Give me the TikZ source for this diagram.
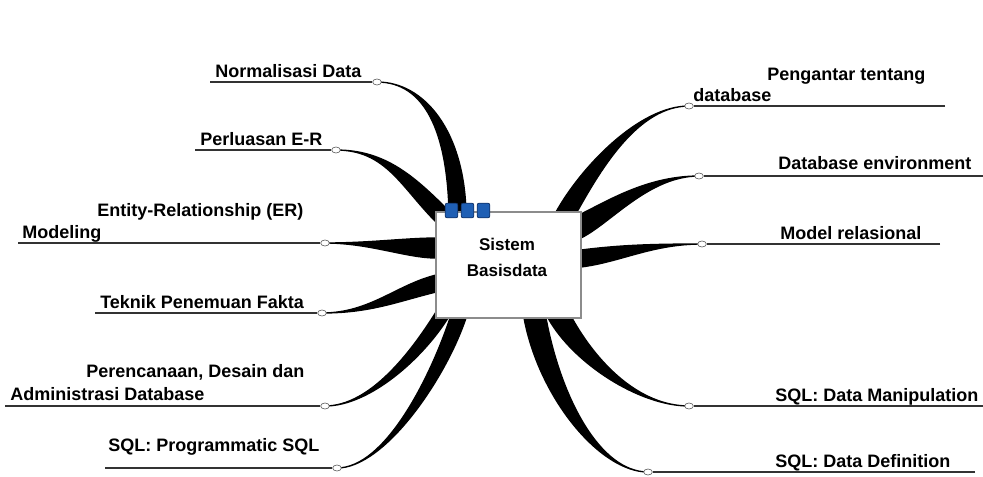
\documentclass[tikz,border=0pt]{standalone}
\usepackage{fontspec}
\setmainfont{Liberation Sans}
\usetikzlibrary{calc,shapes.geometric,backgrounds}
\definecolor{tabblue}{RGB}{31,95,180}
\definecolor{tabedge}{RGB}{20,55,110}
\tikzset{
  topic/.style={anchor=base west,inner sep=0pt,font=\fontsize{13.5}{16}\selectfont\bfseries},
  knob/.style={ellipse,draw=black!60,fill=white,line width=0.5pt,minimum width=6.5pt,minimum height=4.5pt,inner sep=0pt},
  underline/.style={line width=1.2pt,black!80},
  branch/.style={fill=black,draw=black,line width=1pt,line join=round},
  mainbox/.style={draw=black!45,fill=white,line width=0.8pt,minimum width=108.75pt,minimum height=79.5pt,inner sep=0pt,outer sep=0pt},
  tabbox/.style={draw=tabedge,fill=tabblue,line width=0.6pt,rounded corners=1.5pt,minimum width=9.5pt,minimum height=11pt,inner sep=0pt},
  boxtext/.style={align=center,font=\fontsize{12.75}{19.5}\selectfont\bfseries}
}
% knob, control offset, box anchor, base A, base B, control vector at base
\newcommand{\twig}[6]{%
  \filldraw[branch] (#1.center) .. controls ($(#1)+(#2)$) and ($(#3)+(#4)+(#6)$) .. ($(#3)+(#4)$)
    -- ($(#3)+(#5)$) .. controls ($(#3)+(#5)+(#6)$) and ($(#1)+(#2)$) .. (#1.center);}
\begin{document}
\begin{tikzpicture}[x=0.75pt,y=-0.75pt]
\useasboundingbox (0,0) rectangle (983,476);
\node[mainbox] (sb) at (508.5,265) {};
\node[boxtext] (sbt) at (507,257) {Sistem\\Basisdata};
\foreach \i in {0,1,2}
  \node[tabbox] (tab\i) at ($(sb.north west)+(15.5+16*\i,-1.5)$) {};

% left side
\node[topic] (t1) at (215,77) {Normalisasi Data};
\node[knob] (k1) at (377,82) {};
\coordinate (e1) at (210,82);
\node[topic] (t2) at (200,145) {Perluasan E-R};
\node[knob] (k2) at (336,150) {};
\coordinate (e2) at (195,150);
\node[topic] (t3a) at (97,216) {Entity-Relationship (ER)};
\node[topic] (t3b) at (22,238) {Modeling};
\node[knob] (k3) at (325,243) {};
\coordinate (e3) at (18,243);
\node[topic] (t4) at (100,308) {Teknik Penemuan Fakta};
\node[knob] (k4) at (322,313) {};
\coordinate (e4) at (95,313);
\node[topic] (t5a) at (86,377) {Perencanaan, Desain dan};
\node[topic] (t5b) at (10,400) {Administrasi Database};
\node[knob] (k5) at (325,406) {};
\coordinate (e5) at (5,406);
\node[topic] (t6) at (108,451) {SQL: Programmatic SQL};
\node[knob] (k6) at (337,468) {};
\coordinate (e6) at (105,468);

% right side
\node[topic] (t7a) at (767,80) {Pengantar tentang};
\node[topic] (t7b) at (693,101) {database};
\node[knob] (k7) at (689,106) {};
\coordinate (e7) at (945,106);
\node[topic] (t8) at (778,169) {Database environment};
\node[knob] (k8) at (699,176) {};
\coordinate (e8) at (983,176);
\node[topic] (t9) at (780,239) {Model relasional};
\node[knob] (k9) at (702,244) {};
\coordinate (e9) at (940,244);
\node[topic] (t10) at (775,401) {SQL: Data Manipulation};
\node[knob] (k10) at (689,406) {};
\coordinate (e10) at (983,406);
\node[topic] (t11) at (775,467) {SQL: Data Definition};
\node[knob] (k11) at (648,472) {};
\coordinate (e11) at (975,472);

\foreach \i in {1,...,11}
  \draw[underline] (e\i) -- (k\i);

\begin{scope}[on background layer]
\fill[white] (0,0) rectangle (983,476);
\twig{k1}{48,0}{sb.north west}{13,0}{30,0}{-2,-80}
\twig{k2}{50,0}{sb.north west}{0,10}{14,0}{-35,-35}
\twig{k3}{45,0}{sb.north west}{0,26}{0,46}{-30,0}
\twig{k4}{48,0}{sb.north west}{0,63}{0,80}{-40,10}
\twig{k5}{45,0}{sb.south west}{0,-6}{12,0}{-25,40}
\twig{k6}{48,0}{sb.south west}{14,0}{30,0}{-20,60}
\twig{k7}{-50,0}{sb.north east}{-25,0}{-4,0}{25,-45}
\twig{k8}{-50,0}{sb.north east}{0,2}{0,26}{30,-15}
\twig{k9}{-50,0}{sb.north east}{0,38}{0,55}{40,-5}
\twig{k10}{-50,0}{sb.south east}{-33,0}{-9,0}{25,45}
\twig{k11}{-48,0}{sb.south east}{-57,0}{-35,0}{15,80}
\end{scope}
\end{tikzpicture}
\end{document}
